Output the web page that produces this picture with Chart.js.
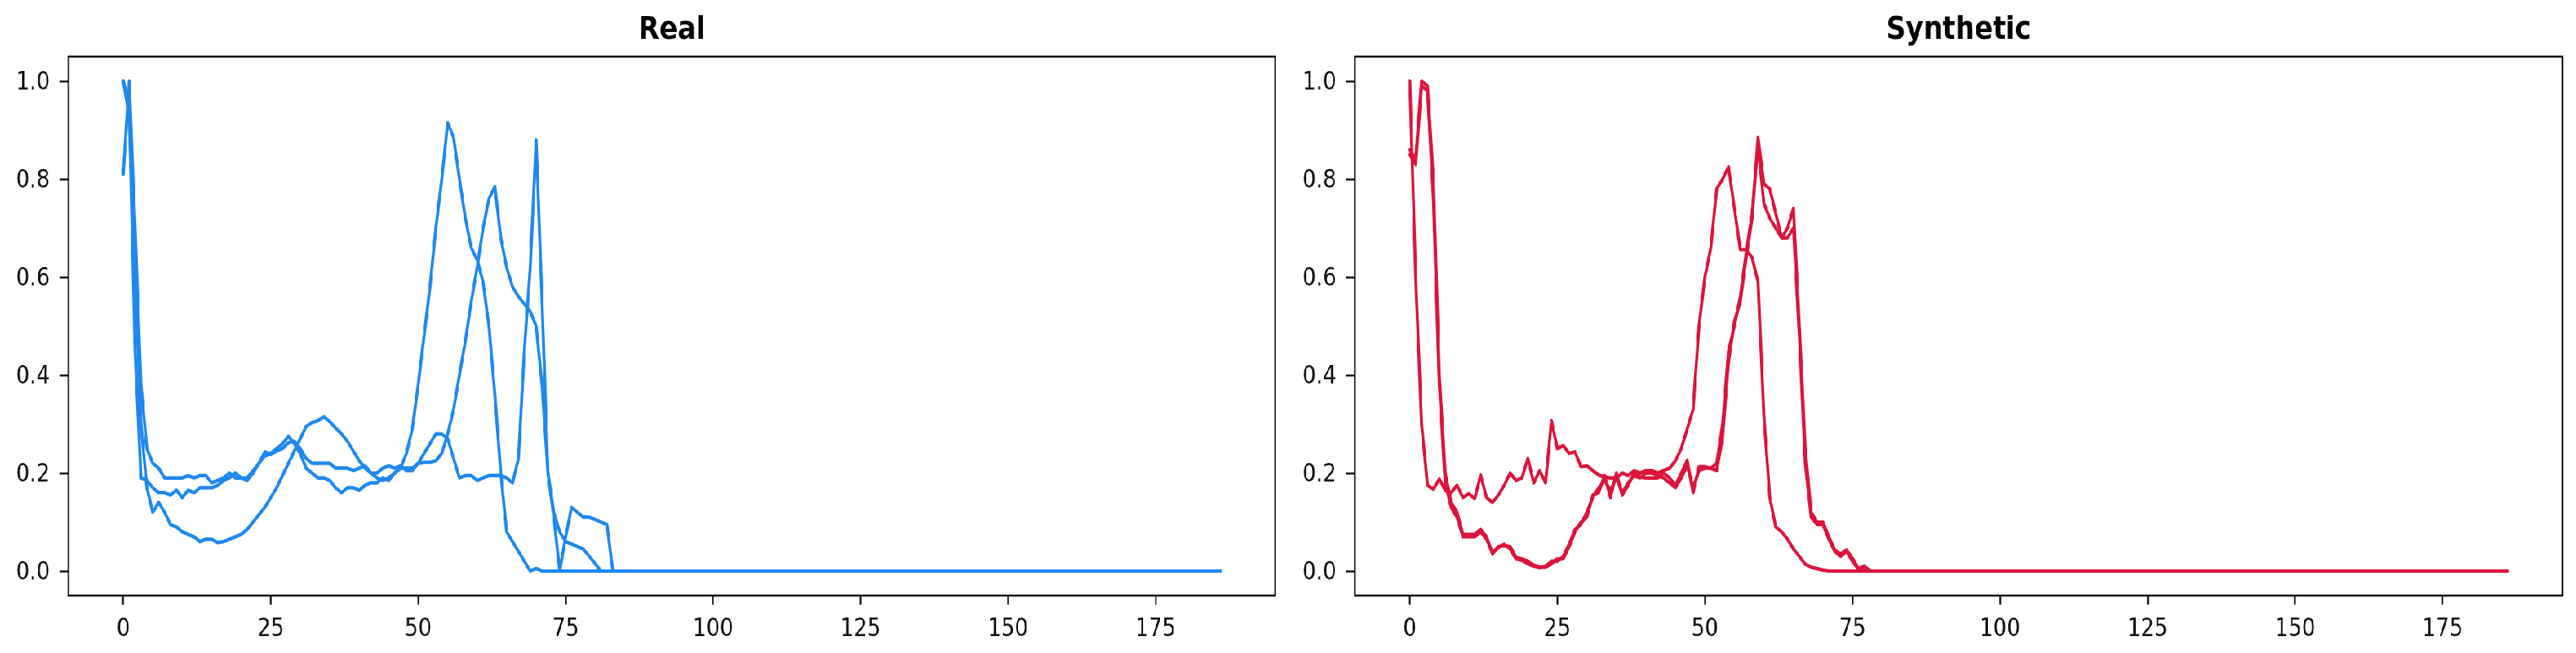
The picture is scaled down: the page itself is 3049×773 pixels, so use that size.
<!DOCTYPE html>
<html><head><meta charset="utf-8">
<script src="https://cdn.jsdelivr.net/npm/chart.js@4/dist/chart.umd.min.js"></script>
<style>
html,body{margin:0;padding:0;background:#fff;overflow:hidden;width:3049px;height:773px;}
#wrap{position:absolute;left:0;top:0;width:3629.76px;height:773px;transform:scaleX(0.84);transform-origin:0 0;}
canvas{position:absolute;top:0;}
#c1{left:0;width:1830px;height:773px;}
#c2{left:1830px;width:1800px;height:773px;}
</style></head><body>
<div id="wrap"><canvas id="c1" width="1830" height="773"></canvas><canvas id="c2" width="1800" height="773"></canvas></div>
<script>
// ---- data ----
const xTicks = [0, 25, 50, 75, 100, 125, 150, 175];
const yTicks = [0.0, 0.2, 0.4, 0.6, 0.8, 1.0];
const titles = ["Real", "Synthetic"];

const real1 = [
1.0,0.93,0.6,0.3,0.17,0.12,0.14,0.12,0.095,0.09,
0.08,0.075,0.07,0.06,0.065,0.065,0.058,0.06,0.065,0.07,
0.075,0.085,0.1,0.115,0.13,0.15,0.17,0.195,0.22,0.245,
0.27,0.295,0.303,0.307,0.315,0.305,0.292,0.28,0.265,0.245,
0.225,0.21,0.2,0.19,0.185,0.19,0.2,0.21,0.24,0.29,
0.38,0.48,0.58,0.7,0.8,0.915,0.885,0.8,0.72,0.66,
0.635,0.59,0.5,0.36,0.2,0.08,0.06,0.04,0.02,0.0,
0.005,0,0,0,0,0,0,0,0,0,
0,0,0,0,0,0,0,0,0,0,
0,0,0,0,0,0,0,0,0,0,
0,0,0,0,0,0,0,0,0,0,
0,0,0,0,0,0,0,0,0,0,
0,0,0,0,0,0,0,0,0,0,
0,0,0,0,0,0,0,0,0,0,
0,0,0,0,0,0,0,0,0,0,
0,0,0,0,0,0,0,0,0,0,
0,0,0,0,0,0,0,0,0,0,
0,0,0,0,0,0,0,0,0,0,
0,0,0,0,0,0,0];

const real2 = [
0.81,1.0,0.7,0.38,0.25,0.22,0.21,0.19,0.19,0.19,
0.19,0.195,0.19,0.195,0.195,0.18,0.185,0.19,0.2,0.19,
0.19,0.19,0.205,0.22,0.243,0.238,0.245,0.25,0.262,0.265,
0.25,0.23,0.22,0.22,0.22,0.22,0.21,0.21,0.21,0.205,
0.21,0.215,0.2,0.2,0.21,0.215,0.21,0.215,0.205,0.205,
0.22,0.222,0.222,0.225,0.24,0.28,0.33,0.4,0.47,0.55,
0.62,0.7,0.76,0.785,0.68,0.62,0.58,0.56,0.545,0.53,
0.5,0.38,0.2,0.12,0.08,0.06,0.055,0.05,0.045,0.03,
0.015,0,0,0,0,0,0,0,0,0,
0,0,0,0,0,0,0,0,0,0,
0,0,0,0,0,0,0,0,0,0,
0,0,0,0,0,0,0,0,0,0,
0,0,0,0,0,0,0,0,0,0,
0,0,0,0,0,0,0,0,0,0,
0,0,0,0,0,0,0,0,0,0,
0,0,0,0,0,0,0,0,0,0,
0,0,0,0,0,0,0,0,0,0,
0,0,0,0,0,0,0,0,0,0,
0,0,0,0,0,0,0];

const real3 = [
1.0,0.95,0.45,0.19,0.185,0.17,0.16,0.16,0.155,0.165,
0.15,0.165,0.16,0.17,0.17,0.17,0.175,0.185,0.19,0.2,
0.19,0.185,0.2,0.22,0.235,0.24,0.25,0.26,0.275,0.26,
0.24,0.21,0.2,0.19,0.19,0.185,0.17,0.16,0.17,0.17,
0.165,0.175,0.18,0.18,0.19,0.185,0.2,0.21,0.21,0.21,
0.22,0.24,0.26,0.28,0.28,0.27,0.23,0.19,0.195,0.195,
0.185,0.19,0.195,0.195,0.195,0.19,0.18,0.23,0.45,0.62,
0.88,0.55,0.2,0.11,0.0,0.07,0.13,0.12,0.11,0.11,
0.105,0.1,0.095,0,0,0,0,0,0,0,
0,0,0,0,0,0,0,0,0,0,
0,0,0,0,0,0,0,0,0,0,
0,0,0,0,0,0,0,0,0,0,
0,0,0,0,0,0,0,0,0,0,
0,0,0,0,0,0,0,0,0,0,
0,0,0,0,0,0,0,0,0,0,
0,0,0,0,0,0,0,0,0,0,
0,0,0,0,0,0,0,0,0,0,
0,0,0,0,0,0,0,0,0,0,
0,0,0,0,0,0,0];

const synth1 = [
1.0,0.6,0.3,0.175,0.167,0.188,0.165,0.16,0.175,0.15,
0.158,0.148,0.196,0.15,0.14,0.155,0.175,0.2,0.185,0.19,
0.23,0.18,0.205,0.18,0.307,0.25,0.256,0.24,0.243,0.213,
0.215,0.205,0.196,0.192,0.19,0.19,0.2,0.195,0.205,0.2,
0.205,0.205,0.2,0.205,0.21,0.225,0.25,0.29,0.33,0.5,
0.6,0.66,0.78,0.8,0.825,0.74,0.656,0.656,0.64,0.59,
0.315,0.15,0.09,0.08,0.065,0.045,0.03,0.014,0.008,0.005,
0.002,0,0,0,0,0,0,0,0,0,
0,0,0,0,0,0,0,0,0,0,
0,0,0,0,0,0,0,0,0,0,
0,0,0,0,0,0,0,0,0,0,
0,0,0,0,0,0,0,0,0,0,
0,0,0,0,0,0,0,0,0,0,
0,0,0,0,0,0,0,0,0,0,
0,0,0,0,0,0,0,0,0,0,
0,0,0,0,0,0,0,0,0,0,
0,0,0,0,0,0,0,0,0,0,
0,0,0,0,0,0,0,0,0,0,
0,0,0,0,0,0,0];

const synth2 = [
0.86,0.84,1.0,0.99,0.8,0.4,0.2,0.14,0.12,0.075,
0.075,0.075,0.085,0.07,0.035,0.05,0.052,0.05,0.028,0.025,
0.02,0.012,0.008,0.008,0.015,0.025,0.025,0.05,0.08,0.1,
0.11,0.155,0.16,0.195,0.15,0.2,0.155,0.175,0.2,0.192,
0.19,0.19,0.19,0.2,0.19,0.175,0.2,0.226,0.16,0.213,
0.213,0.21,0.205,0.273,0.426,0.51,0.55,0.64,0.72,0.885,
0.79,0.78,0.73,0.68,0.7,0.74,0.5,0.25,0.12,0.1,
0.1,0.07,0.043,0.035,0.043,0.026,0.005,0.01,0,0,
0,0,0,0,0,0,0,0,0,0,
0,0,0,0,0,0,0,0,0,0,
0,0,0,0,0,0,0,0,0,0,
0,0,0,0,0,0,0,0,0,0,
0,0,0,0,0,0,0,0,0,0,
0,0,0,0,0,0,0,0,0,0,
0,0,0,0,0,0,0,0,0,0,
0,0,0,0,0,0,0,0,0,0,
0,0,0,0,0,0,0,0,0,0,
0,0,0,0,0,0,0,0,0,0,
0,0,0,0,0,0,0];

const synth3 = [
0.85,0.83,0.99,0.98,0.76,0.38,0.18,0.13,0.11,0.07,
0.07,0.07,0.08,0.065,0.038,0.048,0.055,0.045,0.025,0.022,
0.015,0.01,0.007,0.01,0.02,0.02,0.03,0.055,0.085,0.095,
0.12,0.15,0.17,0.185,0.165,0.19,0.16,0.18,0.195,0.19,
0.2,0.2,0.195,0.19,0.18,0.17,0.19,0.215,0.17,0.205,
0.21,0.21,0.22,0.3,0.45,0.5,0.56,0.65,0.73,0.87,
0.75,0.72,0.7,0.68,0.68,0.7,0.48,0.22,0.11,0.095,
0.095,0.065,0.04,0.03,0.04,0.02,0.004,0.008,0,0,
0,0,0,0,0,0,0,0,0,0,
0,0,0,0,0,0,0,0,0,0,
0,0,0,0,0,0,0,0,0,0,
0,0,0,0,0,0,0,0,0,0,
0,0,0,0,0,0,0,0,0,0,
0,0,0,0,0,0,0,0,0,0,
0,0,0,0,0,0,0,0,0,0,
0,0,0,0,0,0,0,0,0,0,
0,0,0,0,0,0,0,0,0,0,
0,0,0,0,0,0,0,0,0,0,
0,0,0,0,0,0,0];

const realSeries = [real1, real2, real3];
const synthSeries = [synth1, synth2, synth3];
const realColor = "#1E88F0";
const synthColor = "#DC143C";

// ---- drawing ----
const FONT = "'DejaVu Sans', 'Liberation Sans', sans-serif";

const framePlugin = {
  id: 'frame',
  afterDraw(chart) {
    const { ctx, chartArea: a } = chart;
    ctx.save();
    ctx.strokeStyle = '#000';
    ctx.lineWidth = 2.4;
    ctx.strokeRect(a.left, a.top, a.right - a.left, a.bottom - a.top);
    ctx.restore();
  }
};

function makeChart(id, title, seriesList, color, yWidth, rightPad) {
  const datasets = seriesList.map((s, k) => ({
    label: title + ' ' + (k + 1),
    data: s.map((v, i) => ({ x: i, y: v })),
    borderColor: color,
    backgroundColor: color,
    borderWidth: 4.2,
    pointRadius: 0,
    tension: 0,
    fill: false,
    borderJoinStyle: 'round',
    borderCapStyle: 'round'
  }));
  return new Chart(document.getElementById(id), {
    type: 'line',
    data: { datasets },
    options: {
      responsive: false,
      animation: false,
      devicePixelRatio: 1,
      layout: { padding: { left: 0, right: rightPad, top: 0, bottom: 0 } },
      plugins: {
        legend: { display: false },
        tooltip: { enabled: false },
        title: {
          display: true, text: title, fullSize: false, color: '#000',
          font: { family: FONT, size: 38, weight: 'bold', lineHeight: 1.2 },
          padding: { top: 13, bottom: 8.4 }
        }
      },
      scales: {
        x: {
          type: 'linear', min: -9.3, max: 195.3,
          afterBuildTicks: s => { s.ticks = xTicks.map(v => ({ value: v })); },
          afterFit: s => { s.height = 68; },
          ticks: { font: { family: FONT, size: 30 }, color: '#111', padding: 12,
                   maxRotation: 0, autoSkip: false, callback: v => String(v) },
          grid: { drawOnChartArea: false, drawTicks: true, tickLength: 10.7, tickWidth: 2.2, tickColor: '#000' },
          border: { display: false }
        },
        y: {
          type: 'linear', min: -0.05, max: 1.05,
          afterBuildTicks: s => { s.ticks = yTicks.map(v => ({ value: v })); },
          afterFit: s => { s.width = yWidth; },
          ticks: { font: { family: FONT, size: 30 }, color: '#111', padding: 13.5,
                   labelOffset: 2, autoSkip: false, callback: v => Number(v).toFixed(1) },
          grid: { drawOnChartArea: false, drawTicks: true, tickLength: 12.7, tickWidth: 2.2, tickColor: '#000' },
          border: { display: false }
        }
      }
    },
    plugins: [framePlugin]
  });
}

makeChart('c1', titles[0], realSeries, realColor, 96.43, 33.21);
makeChart('c2', titles[1], synthSeries, synthColor, 79.17, 19.29);
</script>
</body></html>
